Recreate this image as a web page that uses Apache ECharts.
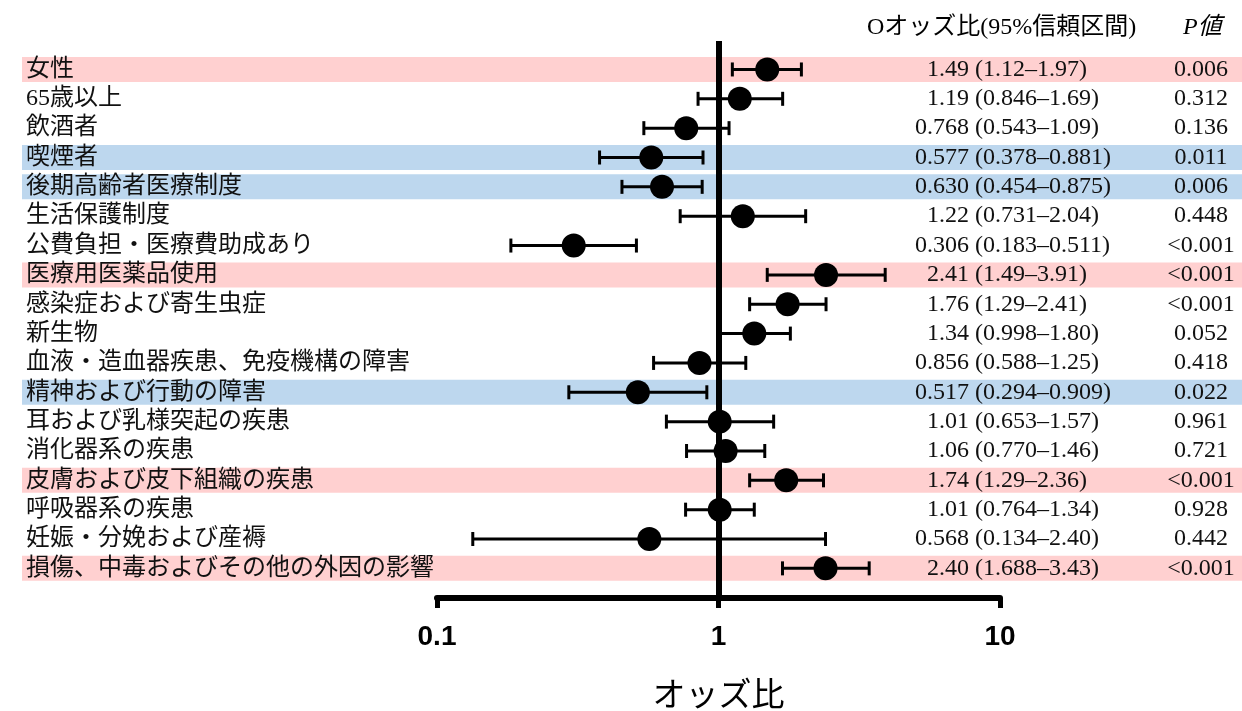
<!DOCTYPE html>
<html><head><meta charset="utf-8">
<script src="https://cdn.jsdelivr.net/npm/echarts@6/dist/echarts.min.js"></script>
<style>html,body{margin:0;padding:0;background:#fff}#c{width:1242px;height:711px}</style>
</head><body><div id="c"></div>
<script>
const labels = ['女性','65歳以上','飲酒者','喫煙者','後期高齢者医療制度','生活保護制度','公費負担・医療費助成あり','医療用医薬品使用','感染症および寄生虫症','新生物','血液・造血器疾患、免疫機構の障害','精神および行動の障害','耳および乳様突起の疾患','消化器系の疾患','皮膚および皮下組織の疾患','呼吸器系の疾患','妊娠・分娩および産褥','損傷、中毒およびその他の外因の影響'];
const oddsRatio = [1.49,1.19,0.768,0.577,0.630,1.22,0.306,2.41,1.76,1.34,0.856,0.517,1.01,1.06,1.74,1.01,0.568,2.40];
const ciLow = [1.12,0.846,0.543,0.378,0.454,0.731,0.183,1.49,1.29,0.998,0.588,0.294,0.653,0.770,1.29,0.764,0.134,1.688];
const ciHigh = [1.97,1.69,1.09,0.881,0.875,2.04,0.511,3.91,2.41,1.80,1.25,0.909,1.57,1.46,2.36,1.34,2.40,3.43];
const orText = ['1.49','1.19','0.768','0.577','0.630','1.22','0.306','2.41','1.76','1.34','0.856','0.517','1.01','1.06','1.74','1.01','0.568','2.40'];
const ciText = ['(1.12–1.97)','(0.846–1.69)','(0.543–1.09)','(0.378–0.881)','(0.454–0.875)','(0.731–2.04)','(0.183–0.511)','(1.49–3.91)','(1.29–2.41)','(0.998–1.80)','(0.588–1.25)','(0.294–0.909)','(0.653–1.57)','(0.770–1.46)','(1.29–2.36)','(0.764–1.34)','(0.134–2.40)','(1.688–3.43)'];
const pText = ['0.006','0.312','0.136','0.011','0.006','0.448','<0.001','<0.001','<0.001','0.052','0.418','0.022','0.961','0.721','<0.001','0.928','0.442','<0.001'];
const highlight = ['pos','','','neg','neg','','','pos','','','','neg','','','pos','','','pos'];
const headerOR = 'Oオッズ比(95%信頼区間)';
const headerP = 'P値';
const axisTitle = 'オッズ比';

const SERIF = "'Liberation Serif', 'Noto Sans CJK JP', serif";
const SANS = "'Liberation Sans', Arial, sans-serif";
const bandColor = {pos:'#FFD0D0', neg:'#BDD7EE'};

const pointData = oddsRatio.map((v,i)=>[v, ciLow[i], ciHigh[i], i]);
const rowData = labels.map((l,i)=>[1, i]);

const chart = echarts.init(document.getElementById('c'));
chart.setOption({
  animation:false,
  grid:{left:437, top:41, width:563, height:557, containLabel:false, outerBoundsMode:'none'},
  xAxis:{
    type:'log', logBase:10, min:0.1, max:10,
    axisLine:{show:true, onZero:false, lineStyle:{color:'#000', width:6}},
    axisTick:{show:true, length:10, lineStyle:{color:'#000', width:5}},
    splitLine:{show:false}, minorTick:{show:false},
    axisLabel:{margin:39, verticalAlign:'middle', fontSize:28, fontWeight:'bold', fontFamily:SANS, color:'#000',
      formatter:v=>String(+(+v).toPrecision(3))},
    name:axisTitle, nameLocation:'middle', nameGap:99,
    nameTextStyle:{fontSize:33, fontFamily:SERIF, color:'#000', verticalAlign:'middle'}
  },
  yAxis:{type:'value', inverse:true, min:-0.97, max:18.01, show:false},
  graphic:[
    {type:'text', left:867, top:16, style:{text:headerOR, font:'24px '+SERIF, fill:'#000'}},
    {type:'text', left:1183, top:16, style:{text:headerP, font:'italic 24px '+SERIF, fill:'#000'}}
  ],
  series:[
    {
      type:'custom', z:1, silent:true, data:rowData, encode:{x:0,y:1},
      renderItem:(params, api)=>{
        const i = api.value(1);
        const kind = highlight[i];
        if(!kind) return null;
        const y = api.coord([1, i])[1];
        return {type:'rect', shape:{x:22, y:y-12.5, width:1220, height:25}, style:{fill:bandColor[kind]}};
      }
    },
    {
      type:'custom', z:3, silent:true, data:pointData, encode:{x:[0,1,2], y:3},
      renderItem:(params, api)=>{
        const i = api.value(3);
        const c = api.coord([api.value(0), i]);
        const l = api.coord([api.value(1), i]);
        const h = api.coord([api.value(2), i]);
        const st = {stroke:'#000', lineWidth:3};
        return {type:'group', children:[
          {type:'line', shape:{x1:l[0], y1:c[1], x2:h[0], y2:c[1]}, style:st},
          {type:'line', shape:{x1:l[0], y1:c[1]-7, x2:l[0], y2:c[1]+7}, style:st},
          {type:'line', shape:{x1:h[0], y1:c[1]-7, x2:h[0], y2:c[1]+7}, style:st},
          {type:'circle', shape:{cx:c[0], cy:c[1], r:12}, style:{fill:'#000'}}
        ]};
      },
      markLine:{silent:true, symbol:'none', label:{show:false},
        lineStyle:{color:'#000', width:6, type:'solid'}, data:[{xAxis:1}]}
    },
    {
      type:'custom', z:4, silent:true, data:rowData, encode:{x:0,y:1},
      renderItem:(params, api)=>{
        const i = api.value(1);
        const y = api.coord([1, i])[1];
        const f = '24px '+SERIF;
        return {type:'group', children:[
          {type:'text', style:{x:26, y:y, text:labels[i], font:f, fill:'#111', align:'left', verticalAlign:'middle'}},
          {type:'text', style:{x:969, y:y, text:orText[i], font:f, fill:'#111', align:'right', verticalAlign:'middle'}},
          {type:'text', style:{x:975, y:y, text:ciText[i], font:f, fill:'#111', align:'left', verticalAlign:'middle'}},
          {type:'text', style:{x:1201, y:y, text:pText[i], font:f, fill:'#111', align:'center', verticalAlign:'middle'}}
        ]};
      }
    }
  ]
});
</script></body></html>
